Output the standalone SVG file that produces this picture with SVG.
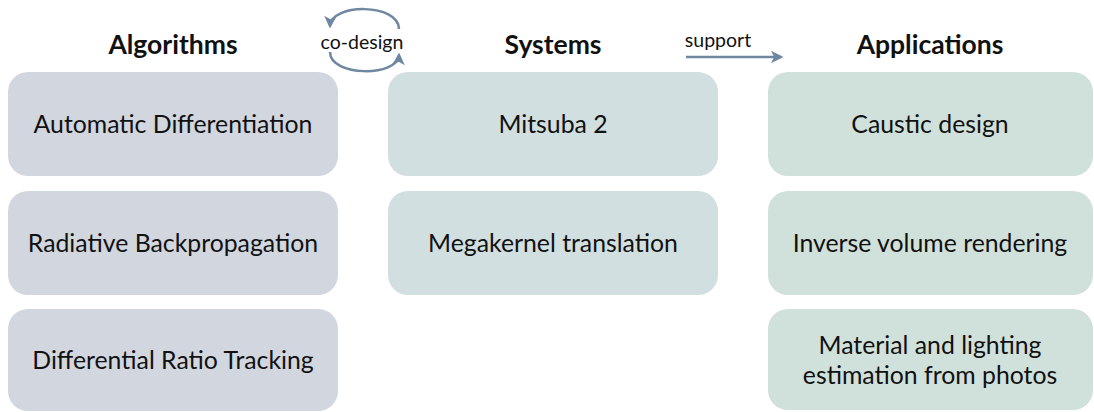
<svg xmlns="http://www.w3.org/2000/svg" width="1094" height="412" viewBox="0 0 1094 412">
  <style>
    .head { font-family: Lato, "Open Sans", sans-serif; font-weight: bold; font-size: 26.5px; fill: #111; text-anchor: middle; }
    .lbl { font-family: Lato, "Open Sans", sans-serif; font-size: 24.8px; fill: #111; text-anchor: middle; }
    .small { font-family: Lato, "Open Sans", sans-serif; font-size: 19.5px; fill: #111; text-anchor: middle; }
    .alg { fill: #d1d6df; }
    .sys { fill: #d1dfe0; }
    .app { fill: #d0e0da; }
    .conn { fill: none; stroke: #6f87a0; stroke-width: 2.5; }
  </style>
  <defs>
    <marker id="head" viewBox="0 0 10 10" refX="8" refY="5" markerWidth="5" markerHeight="5" orient="auto" markerUnits="strokeWidth">
      <path d="M0,0 L10,5 L0,10 L2.5,5 Z" fill="#6f87a0"/>
    </marker>
  </defs>

  <!-- column headers -->
  <text class="head" x="173" y="54">Algorithms</text>
  <text class="head" x="553" y="54">Systems</text>
  <text class="head" x="930" y="54">Applications</text>

  <!-- connectors -->
  <g id="connectors">
    <path class="conn" d="M399,29 C399,3 331,3 330,26" marker-end="url(#head)"/>
    <path class="conn" d="M330,52 C330,77 398,77 399,55" marker-end="url(#head)"/>
    <text class="small" x="362" y="49">co-design</text>
    <line class="conn" x1="686" y1="57" x2="781" y2="57" marker-end="url(#head)"/>
    <text class="small" x="718" y="47">support</text>
  </g>

  <!-- algorithms -->
  <g id="auto-diff">
    <rect class="alg" x="8" y="72" width="330" height="104" rx="20"/>
    <text class="lbl" x="173" y="133">Automatic Differentiation</text>
  </g>
  <g id="radiative-bp">
    <rect class="alg" x="8" y="191" width="330" height="104" rx="20"/>
    <text class="lbl" x="173" y="252">Radiative Backpropagation</text>
  </g>
  <g id="diff-ratio">
    <rect class="alg" x="8" y="309" width="330" height="102" rx="20"/>
    <text class="lbl" x="173" y="369">Differential Ratio Tracking</text>
  </g>

  <!-- systems -->
  <g id="mitsuba">
    <rect class="sys" x="388" y="72" width="330" height="104" rx="20"/>
    <text class="lbl" x="553" y="133">Mitsuba 2</text>
  </g>
  <g id="megakernel">
    <rect class="sys" x="388" y="191" width="330" height="104" rx="20"/>
    <text class="lbl" x="553" y="252">Megakernel translation</text>
  </g>

  <!-- applications -->
  <g id="caustic">
    <rect class="app" x="768" y="72" width="325" height="104" rx="20"/>
    <text class="lbl" x="930" y="133">Caustic design</text>
  </g>
  <g id="inverse-volume">
    <rect class="app" x="768" y="191" width="325" height="104" rx="20"/>
    <text class="lbl" x="930" y="252">Inverse volume rendering</text>
  </g>
  <g id="material-lighting">
    <rect class="app" x="768" y="309" width="325" height="101" rx="20"/>
    <text class="lbl" x="930" y="354">Material and lighting</text>
    <text class="lbl" x="930" y="384">estimation from photos</text>
  </g>
</svg>
